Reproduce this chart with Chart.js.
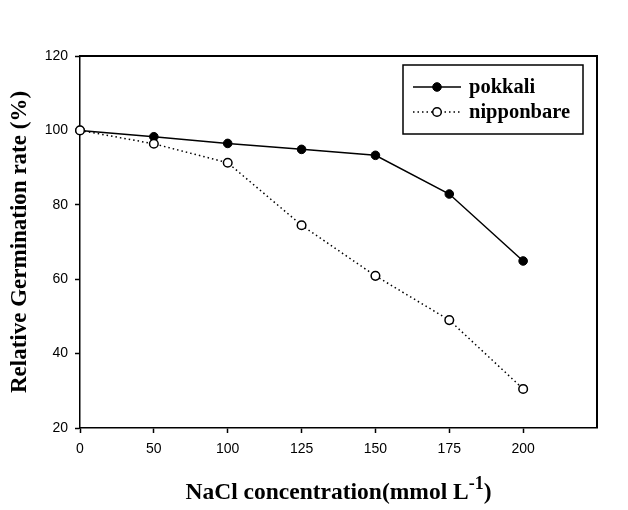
<!DOCTYPE html>
<html>
<head>
<meta charset="utf-8">
<script src="https://cdn.jsdelivr.net/npm/chart.js@4/dist/chart.umd.min.js"></script>
<style>
  body { margin: 0; background: #fff; }
  canvas { display: block; }
</style>
</head>
<body>
<canvas id="germChart" width="628" height="510"></canvas>
<script>
// NaCl concentrations (mmol/L), plotted at equal spacing
const concentrations = [0, 50, 100, 125, 150, 175, 200];
const pokkali = [100, 98.3, 96.5, 94.9, 93.3, 82.9, 64.9];
const nipponbare = [100, 96.4, 91.3, 74.5, 60.9, 49.0, 30.5];
const yTicks = [20, 40, 60, 80, 100, 120];

const serif = "'Liberation Serif', 'Times New Roman', serif";
const sans = "'Liberation Sans', Arial, sans-serif";

// an empty slot after 200 leaves the blank space at the right of the axis
const xLabels = concentrations.map(String).concat(['']);

// box border on top/right, axis titles and framed legend inside the plot
const decorations = {
    id: 'decorations',
    afterDraw(chart) {
        const ctx = chart.ctx;
        const a = chart.chartArea;
        ctx.save();
        ctx.strokeStyle = '#000';
        ctx.lineWidth = 2;
        ctx.beginPath();
        ctx.moveTo(a.left, a.top);
        ctx.lineTo(a.right, a.top);
        ctx.lineTo(a.right, a.bottom);
        ctx.stroke();

        // y title
        ctx.fillStyle = '#000';
        ctx.font = 'bold 23px ' + serif;
        ctx.textAlign = 'center';
        ctx.textBaseline = 'middle';
        ctx.translate(20, (a.top + a.bottom) / 2);
        ctx.rotate(-Math.PI / 2);
        ctx.fillText('Relative Germination rate (%)', 0, 0);
        ctx.setTransform(1, 0, 0, 1, 0, 0);

        // x title with superscript
        const main = 'NaCl concentration(mmol L';
        const sup = '-1';
        const close = ')';
        ctx.textAlign = 'left';
        ctx.textBaseline = 'alphabetic';
        ctx.font = 'bold 23.5px ' + serif;
        const wMain = ctx.measureText(main).width;
        const wClose = ctx.measureText(close).width;
        ctx.font = 'bold 18px ' + serif;
        const wSup = ctx.measureText(sup).width;
        let x = (a.left + a.right) / 2 - (wMain + wSup + wClose) / 2;
        const base = 499;
        ctx.font = 'bold 23.5px ' + serif;
        ctx.fillText(main, x, base);
        x += wMain;
        ctx.font = 'bold 18px ' + serif;
        ctx.fillText(sup, x, base - 10);
        x += wSup;
        ctx.font = 'bold 23.5px ' + serif;
        ctx.fillText(close, x, base);

        // legend
        const lx = a.right - 194, ly = a.top + 9, lw = 180, lh = 69;
        ctx.lineWidth = 1.5;
        ctx.strokeRect(lx, ly, lw, lh);
        chart.data.datasets.forEach((ds, i) => {
            const y = ly + 22 + i * 25;
            ctx.save();
            ctx.strokeStyle = ds.borderColor;
            ctx.lineWidth = ds.borderWidth;
            ctx.setLineDash(ds.borderDash || []);
            ctx.beginPath();
            ctx.moveTo(lx + 10, y);
            ctx.lineTo(lx + 58, y);
            ctx.stroke();
            ctx.setLineDash([]);
            ctx.beginPath();
            ctx.arc(lx + 34, y, ds.pointRadius, 0, Math.PI * 2);
            ctx.fillStyle = ds.pointBackgroundColor;
            ctx.fill();
            ctx.lineWidth = ds.pointBorderWidth;
            ctx.strokeStyle = ds.pointBorderColor;
            ctx.stroke();
            ctx.restore();
            ctx.fillStyle = '#000';
            ctx.font = 'bold 20.5px ' + serif;
            ctx.textBaseline = 'middle';
            ctx.fillText(ds.label, lx + 66, y + 1);
        });
        ctx.restore();
    }
};

new Chart(document.getElementById('germChart'), {
    type: 'line',
    data: {
        labels: xLabels,
        datasets: [{
            label: 'pokkali',
            data: pokkali,
            borderColor: '#000',
            borderWidth: 1.5,
            pointRadius: 4.3,
            pointBackgroundColor: '#000',
            pointBorderColor: '#000',
            pointBorderWidth: 1,
            tension: 0,
            order: 1
        }, {
            label: 'nipponbare',
            data: nipponbare,
            borderColor: '#000',
            borderWidth: 1.5,
            borderDash: [1.5, 3],
            pointRadius: 4.3,
            pointBackgroundColor: '#fff',
            pointBorderColor: '#000',
            pointBorderWidth: 1.5,
            tension: 0,
            order: 0
        }]
    },
    options: {
        responsive: false,
        animation: false,
        layout: { padding: { top: 56, right: 31, left: 0, bottom: 0 } },
        plugins: {
            legend: { display: false },
            tooltip: { enabled: false }
        },
        scales: {
            x: {
                type: 'category',
                offset: false,
                afterFit: s => { s.height = 82; },
                grid: {
                    display: true,
                    drawOnChartArea: false,
                    tickLength: 5,
                    tickWidth: 1.5,
                    tickColor: c => (c.index === xLabels.length - 1 ? 'rgba(0,0,0,0)' : '#000')
                },
                border: { display: true, color: '#000', width: 1.5 },
                ticks: {
                    color: '#000',
                    font: { family: sans, size: 14 },
                    padding: 8,
                    maxRotation: 0,
                    autoSkip: false
                }
            },
            y: {
                min: yTicks[0],
                max: yTicks[yTicks.length - 1],
                afterFit: s => { s.width = 80; },
                afterBuildTicks: s => { s.ticks = yTicks.map(v => ({ value: v })); },
                grid: {
                    display: true,
                    drawOnChartArea: false,
                    tickLength: 5,
                    tickWidth: 1.5,
                    tickColor: '#000'
                },
                border: { display: true, color: '#000', width: 1.5 },
                ticks: {
                    color: '#000',
                    font: { family: sans, size: 14 },
                    padding: 7
                }
            }
        }
    },
    plugins: [decorations]
});
</script>
</body>
</html>
